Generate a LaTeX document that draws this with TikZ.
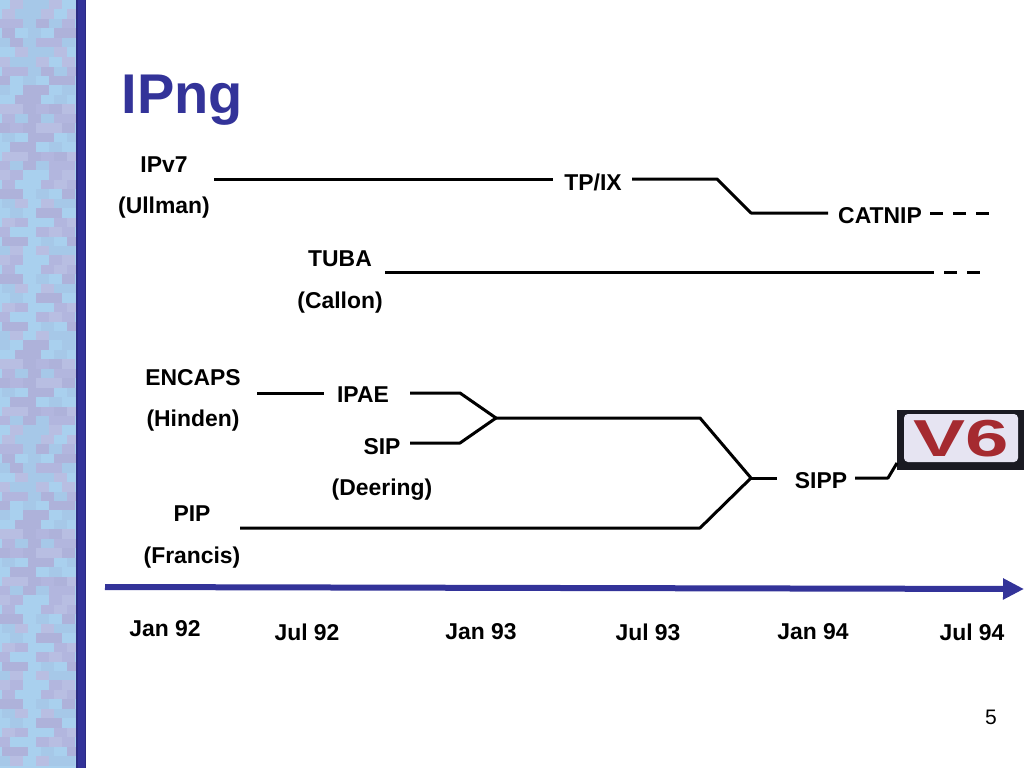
\documentclass[tikz,border=0pt]{standalone}
\usepackage{fontspec}
\setmainfont{Liberation Sans}
\usetikzlibrary{arrows.meta}
\definecolor{ipblue}{HTML}{333399}
\definecolor{tileA}{HTML}{A9D0EE}
\definecolor{tileB}{HTML}{B2B6DE}
\definecolor{tileC}{HTML}{A6C8E8}
\definecolor{tileD}{HTML}{B8BEE2}
\definecolor{tileE}{HTML}{AEB2DA}
\definecolor{vred}{HTML}{A52A30}
\definecolor{vbg}{HTML}{E6E4F2}
\definecolor{badgeblack}{HTML}{1A1A22}
\tikzset{
  lab/.style={font=\bfseries\fontsize{22.9}{26}\selectfont, text=black, inner sep=0pt, anchor=center},
  par/.style={lab, yshift=-1.5pt},
  date/.style={lab},
  conn/.style={draw=black, line width=3pt, line join=round},
  dashconn/.style={conn, dash pattern=on 13pt off 10pt},
}
\begin{document}
\begin{tikzpicture}[x=1pt,y=-1pt]
\useasboundingbox (0,0) rectangle (1024,768);
\fill[white] (0,0) rectangle (1024,768);
% mosaic band
\fill[tileA] (0,0) rectangle (76,768);
\foreach \r in {0,...,8}{
  \foreach \c in {0,...,5}{
    \foreach \k in {0,...,8}{
      \pgfmathtruncatemacro{\v}{mod(\r*\r*7+\c*\c*13+\k*\k*\k*5+\c*\k*11+3*\k,5)}
      \ifcase\v\colorlet{tt}{tileA}\or\colorlet{tt}{tileB}\or\colorlet{tt}{tileC}\or\colorlet{tt}{tileD}\or\colorlet{tt}{tileE}\fi
      \pgfmathsetmacro{\xx}{\c*13-3+mod(\k,2)*5}
      \pgfmathsetmacro{\yy}{\r*85+\k*9.5}
      \fill[tt] (\xx,\yy) rectangle ++(13,9.5);
    }
  }
}
\fill[ipblue!85!black] (76,0) rectangle (86,768);
\fill[ipblue] (78,0) rectangle (85,768);
% title
\node[inner sep=0pt, font=\bfseries\fontsize{56}{60}\selectfont, text=ipblue] (title) at (182.5,100) {IPng};
% labels
\node[lab] (ipv) at (164,165) {IPv7};
\node[par] (ullman) at (164,206) {(Ullman)};
\node[lab] (tpix) at (593,182) {TP/IX};
\node[lab] (catnip) at (880,216) {CATNIP};
\node[lab] (tuba) at (340,259) {TUBA};
\node[par] (callon) at (340,301) {(Callon)};
\node[lab] (encaps) at (193,378) {ENCAPS};
\node[par] (hinden) at (193,419) {(Hinden)};
\node[lab] (ipae) at (363,395) {IPAE};
\node[lab] (sip) at (382,447) {SIP};
\node[par] (deering) at (382,488) {(Deering)};
\node[lab] (pip) at (192,514) {PIP};
\node[par] (francis) at (192,556) {(Francis)};
\node[lab] (sipp) at (821,481) {SIPP};
\node[date] (d1) at (165,629) {Jan 92};
\node[date] (d2) at (307,632) {Jul 92};
\node[date] (d3) at (481,632) {Jan 93};
\node[date] (d4) at (648,632) {Jul 93};
\node[date] (d5) at (813,632) {Jan 94};
\node[date] (d6) at (972,632) {Jul 94};
\node[inner sep=0pt, font=\fontsize{21}{24}\selectfont] (page) at (991,717) {5};
% V6 badge
\node[draw=none, fill=badgeblack, minimum width=127pt, minimum height=60pt, inner sep=0pt, anchor=north west] (badge) at (897,410) {};
\fill[vbg, rounded corners=4pt] (904,414) rectangle (1018,462);
\node[inner sep=0pt, text=vred, font=\bfseries\fontsize{52}{56}\selectfont, xscale=1.5] (vsix) at (961.5,439) {V6};
% junction coordinates
\coordinate (a1) at (214,179);
\coordinate (a2) at (553,179);
\coordinate (a3) at (632,179);
\coordinate (a4) at (717,179);
\coordinate (a5) at (751,213);
\coordinate (a6) at (828,213);
\coordinate (a7) at (930,213);
\coordinate (a8) at (989,213);
\coordinate (b1) at (385,272);
\coordinate (b2) at (934,272);
\coordinate (b4) at (944,272);
\coordinate (b3) at (980,272);
\coordinate (c1) at (257,393);
\coordinate (c2) at (324,393);
\coordinate (c3) at (410,393);
\coordinate (c4) at (460,393);
\coordinate (j1) at (496,418);
\coordinate (s1) at (410,443);
\coordinate (s2) at (460,443);
\coordinate (j2) at (700,418);
\coordinate (j3) at (751,478);
\coordinate (p1) at (240,528);
\coordinate (p2) at (700,528);
\coordinate (q1) at (777,478);
\coordinate (q2) at (855,478);
\coordinate (q3) at (888,478);
\coordinate (q4) at (897,463);
\coordinate (t1) at (105,587);
\coordinate (t2) at (1024,589);
% connectors
\draw[conn] (a1) -- (a2);
\draw[conn] (a3) -- (a4) -- (a5) -- (a6);
\draw[dashconn] (a7) -- (a8);
\draw[conn] (b1) -- (b2);
\draw[dashconn] (b4) -- (b3);
\draw[conn] (c1) -- (c2);
\draw[conn] (c3) -- (c4) -- (j1);
\draw[conn] (s1) -- (s2) -- (j1);
\draw[conn] (j1) -- (j2) -- (j3);
\draw[conn] (p1) -- (p2) -- (j3);
\draw[conn] (j3) -- (q1);
\draw[conn] (q2) -- (q3) -- (q4);
\draw[draw=ipblue, line width=6pt, -{Triangle[length=21pt,width=20pt]}] (t1) -- (t2);
\end{tikzpicture}
\end{document}
